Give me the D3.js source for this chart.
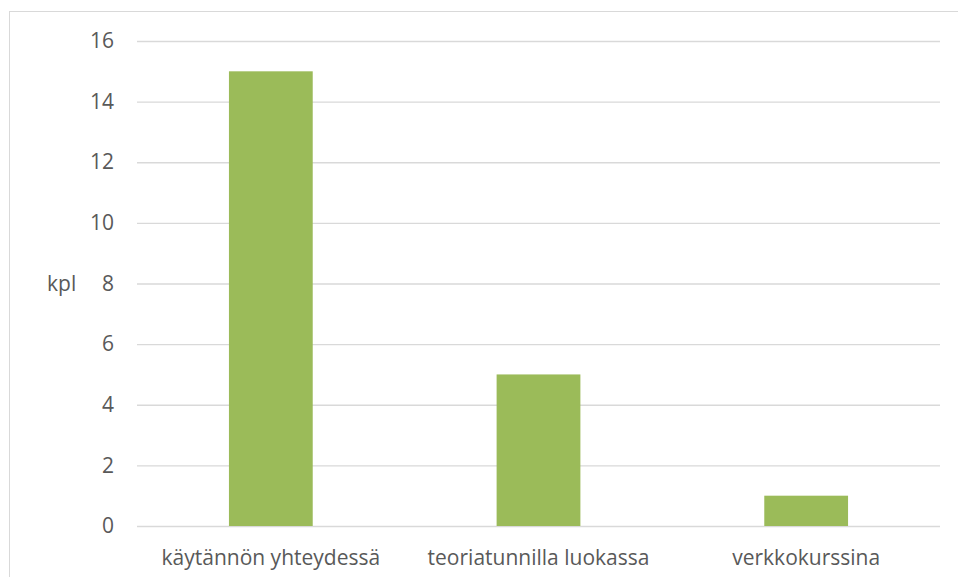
<!DOCTYPE html>
<html>
<head>
<meta charset="utf-8">
<script src="https://cdn.jsdelivr.net/npm/d3@7"></script>
<style>
  body { margin: 0; background: #fff; }
  text { font-family: "Open Sans", Lato, sans-serif; fill: #595959; }
</style>
</head>
<body>
<div id="chart"></div>
<script>
var width = 958,
    height = 577;

var categories = ["käytännön yhteydessä", "teoriatunnilla luokassa", "verkkokurssina"];
var values = [15, 5, 1];
var yTicks = [0, 2, 4, 6, 8, 10, 12, 14, 16];
var yLabel = "kpl";

var margin = {left: 137, right: 18, top: 41, bottom: 51};

var svg = d3.select("#chart").append("svg")
  .attr("width", width)
  .attr("height", height);

// chart frame
svg.append("rect")
  .attr("x", 9.5)
  .attr("y", 11.5)
  .attr("width", 970)
  .attr("height", 600)
  .attr("fill", "none")
  .attr("stroke", "#d9d9d9");

var x = d3.scaleBand()
  .domain(categories)
  .range([margin.left, width - margin.right])
  .paddingInner(0.687)
  .paddingOuter(0.3435);

var y = d3.scaleLinear()
  .domain([0, 16])
  .range([height - margin.bottom, margin.top]);

var yAxis = svg.append("g")
  .attr("transform", "translate(" + margin.left + ",0)")
  .call(d3.axisLeft(y).tickValues(yTicks).tickSize(-(width - margin.right - margin.left)).tickPadding(23));

yAxis.select(".domain").remove();
yAxis.selectAll(".tick line")
  .attr("stroke", "#d9d9d9")
  .attr("stroke-width", 1.3);
yAxis.selectAll(".tick text")
  .style("font-size", "21px")
  .attr("fill", "#595959");

svg.selectAll(".bar")
  .data(values)
  .enter().append("rect")
  .attr("class", "bar")
  .attr("x", function(d, i) { return x(categories[i]); })
  .attr("y", function(d) { return y(d); })
  .attr("width", x.bandwidth())
  .attr("height", function(d) { return y(0) - y(d); })
  .attr("fill", "#9bbb59");

var xAxis = svg.append("g")
  .attr("transform", "translate(0," + y(0) + ")")
  .call(d3.axisBottom(x).tickSize(0).tickPadding(24));
xAxis.select(".domain").remove();
xAxis.selectAll(".tick text")
  .style("font-size", "21px")
  .attr("fill", "#595959");

svg.append("text")
  .attr("x", 47)
  .attr("y", y(8))
  .attr("dy", "0.35em")
  .style("font-size", "21px")
  .text(yLabel);
</script>
</body>
</html>
